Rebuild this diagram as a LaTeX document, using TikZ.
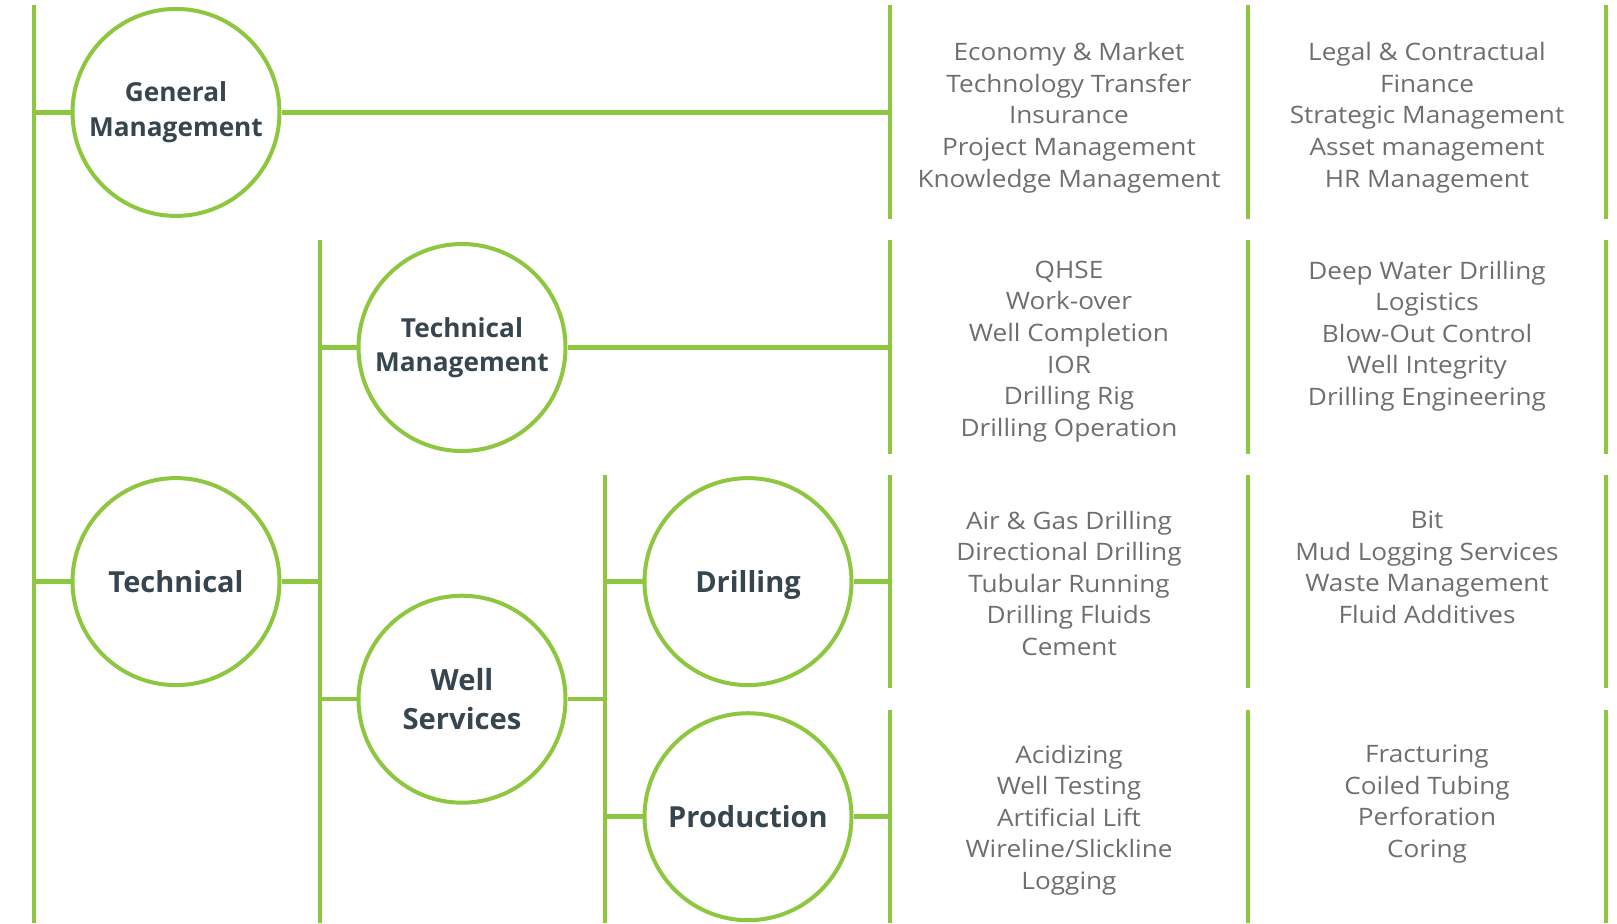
\documentclass[tikz,border=0pt]{standalone}
\usepackage{fontspec}
\setmainfont{Open Sans}
\newfontfamily\listfont{Open Sans}[FakeStretch=1.09]
\definecolor{lgreen}{RGB}{141,198,63}
\definecolor{txtgrey}{RGB}{109,110,113}
\definecolor{darkslate}{RGB}{55,69,79}
\begin{document}
\begin{tikzpicture}[x=0.5pt,y=-0.5pt,
  bar/.style={draw=lgreen,line width=2.25pt},
  hub/.style={circle,draw=lgreen,line width=2pt,fill=white,minimum size=103.5pt,inner sep=0pt,align=center,text=darkslate,font=\bfseries\fontsize{13.1pt}{17.3pt}\selectfont},
  bighub/.style={hub,font=\bfseries\fontsize{14.5pt}{19.5pt}\selectfont,text depth=0pt},
  wshub/.style={hub,font=\bfseries\fontsize{14.6pt}{19.5pt}\selectfont},
  list/.style={anchor=north,inner sep=0pt,align=center,text=txtgrey,font=\listfont\fontsize{12pt}{15.8pt}\selectfont}]
\useasboundingbox (0,0) rectangle (1617,923);
% trunk lines
\coordinate (v1t) at (34,5);   \coordinate (v1b) at (34,923);
\coordinate (v2t) at (320,240); \coordinate (v2b) at (320,923);
\coordinate (v3t) at (605,475); \coordinate (v3b) at (605,923);
\draw[bar] (v1t) -- (v1b);
\draw[bar] (v2t) -- (v2b);
\draw[bar] (v3t) -- (v3b);
% right-hand column bars
\foreach \r/\t/\b in {1/5/219, 2/240/453.5, 3/475/688, 4/710/923}{
  \coordinate (a\r t) at (890,\t);  \coordinate (a\r b) at (890,\b);
  \coordinate (b\r t) at (1248,\t); \coordinate (b\r b) at (1248,\b);
  \coordinate (c\r t) at (1606,\t); \coordinate (c\r b) at (1606,\b);
  \draw[bar] (a\r t) -- (a\r b);
  \draw[bar] (b\r t) -- (b\r b);
  \draw[bar] (c\r t) -- (c\r b);
}
% hubs
\node[hub] (gm) at (176,112.4) {General\\Management};
\node[hub] (tm) at (462,347.5) {Technical\\Management};
\node[bighub] (tech) at (176,581.6) {Technical};
\node[wshub] (ws) at (462,699.2) {Well\\Services};
\node[bighub] (dr) at (748,581.6) {Drilling};
\node[bighub] (pr) at (748,816.7) {Production};
% connectors
\draw[bar] (gm.west -| v1t) -- (gm.west);
\draw[bar] (gm.east) -- (gm.east -| a1t);
\draw[bar] (tm.west -| v2t) -- (tm.west);
\draw[bar] (tm.east) -- (tm.east -| a2t);
\draw[bar] (tech.west -| v1t) -- (tech.west);
\draw[bar] (tech.east) -- (tech.east -| v2t);
\draw[bar] (ws.west -| v2t) -- (ws.west);
\draw[bar] (ws.east) -- (ws.east -| v3t);
\draw[bar] (dr.west -| v3t) -- (dr.west);
\draw[bar] (dr.east) -- (dr.east -| a3t);
\draw[bar] (pr.west -| v3t) -- (pr.west);
\draw[bar] (pr.east) -- (pr.east -| a4t);
% lists
\node[list] (l1a) at (1069,42) {Economy \& Market\\Technology Transfer\\Insurance\\Project Management\\Knowledge Management};
\node[list] (l1b) at (1427,42) {Legal \& Contractual\\Finance\\Strategic Management\\Asset management\\HR Management};
\node[list] (l2a) at (1069,260.5) {QHSE\\Work-over\\Well Completion\\IOR\\Drilling Rig\\Drilling Operation};
\node[list] (l2b) at (1427,260.5) {Deep Water Drilling\\Logistics\\Blow-Out Control\\Well Integrity\\Drilling Engineering};
\node[list] (l3a) at (1069,510.5) {Air \& Gas Drilling\\Directional Drilling\\Tubular Running\\Drilling Fluids\\Cement};
\node[list] (l3b) at (1427,510.5) {Bit\\Mud Logging Services\\Waste Management\\Fluid Additives};
\node[list] (l4a) at (1069,744.5) {Acidizing\\Well Testing\\Artificial Lift\\Wireline/Slickline\\Logging};
\node[list] (l4b) at (1427,744.5) {Fracturing\\Coiled Tubing\\Perforation\\Coring};
\end{tikzpicture}
\end{document}
